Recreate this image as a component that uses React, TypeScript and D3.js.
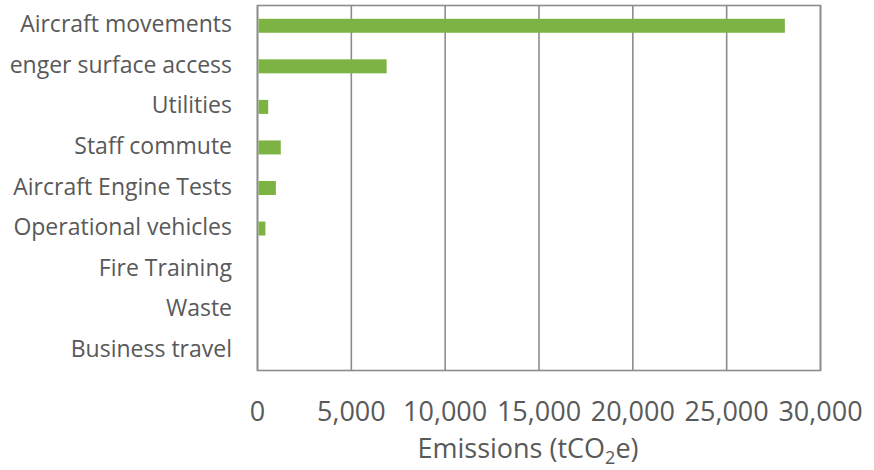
import React from "react";
import * as d3 from "d3";

// Emissions by source (tCO2e)
const categories = [
  "Aircraft movements",
  "Passenger surface access",
  "Utilities",
  "Staff commute",
  "Aircraft Engine Tests",
  "Operational vehicles",
  "Fire Training",
  "Waste",
  "Business travel",
];
const emissions = [28100, 6880, 570, 1240, 980, 420, 10, 40, 15];
const tickValues = [0, 5000, 10000, 15000, 20000, 25000, 30000];
const axisTitle = "Emissions (tCO";

const W = 874;
const H = 470;
const plot = { left: 257.5, right: 820.5, top: 5.5, bottom: 370.5 };
const FONT = "'Open Sans', sans-serif";
const TEXT = "#595959";
const GRID = "#8c8c8c";
const BAR = "#7cb342";

export default function App() {
  const x = d3.scaleLinear().domain([0, 30000]).range([plot.left, plot.right]);
  const y = d3
    .scaleBand<string>()
    .domain(categories)
    .range([plot.top, plot.bottom])
    .paddingInner(0.655)
    .paddingOuter(0.3275);
  const fmt = d3.format(",");

  return (
    <svg
      width={W}
      height={H}
      style={{ position: "absolute", left: 0, top: 0, background: "#fff" }}
    >
      <defs>
        {/* long category names are cut at the chart's left edge */}
        <clipPath id="label-clip">
          <rect x={9} y={0} width={plot.left - 9} height={H} />
        </clipPath>
      </defs>

      {/* vertical gridlines */}
      {tickValues.map((t) => (
        <line
          key={t}
          x1={x(t)}
          x2={x(t)}
          y1={plot.top}
          y2={plot.bottom}
          stroke={GRID}
          strokeWidth={1.6}
        />
      ))}
      {/* plot frame */}
      <rect
        x={plot.left}
        y={plot.top}
        width={plot.right - plot.left}
        height={plot.bottom - plot.top}
        fill="none"
        stroke={GRID}
        strokeWidth={1.6}
      />

      {/* bars */}
      {categories.map((c, i) => (
        <rect
          key={c}
          x={x(0) + 1}
          y={y(c)!}
          width={Math.max(0, x(emissions[i]) - x(0) - 1)}
          height={y.bandwidth()}
          fill={BAR}
        />
      ))}

      {/* category labels */}
      <g clipPath="url(#label-clip)">
        {categories.map((c) => (
          <text
            key={c}
            x={232}
            y={y(c)! + y.bandwidth() / 2 + 6.5}
            textAnchor="end"
            fontFamily={FONT}
            fontSize={23}
            fill={TEXT}
          >
            {c}
          </text>
        ))}
      </g>

      {/* x tick labels */}
      {tickValues.map((t) => (
        <text
          key={t}
          x={x(t)}
          y={420.5}
          textAnchor="middle"
          fontFamily={FONT}
          fontSize={27}
          fill={TEXT}
        >
          {fmt(t)}
        </text>
      ))}

      {/* axis title */}
      <text
        x={528}
        y={457.5}
        textAnchor="middle"
        fontFamily={FONT}
        fontSize={27}
        fill={TEXT}
      >
        {axisTitle}
        <tspan fontSize={18} dy={6}>
          2
        </tspan>
        <tspan dy={-6}>e)</tspan>
      </text>
    </svg>
  );
}
